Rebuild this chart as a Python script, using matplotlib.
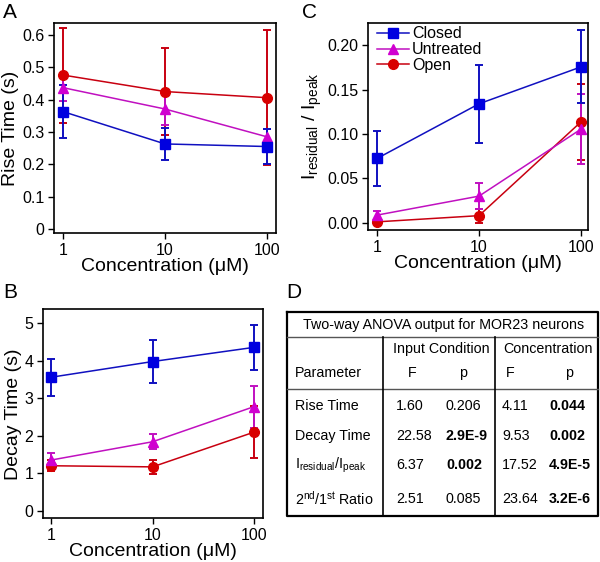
import matplotlib
matplotlib.use('Agg')
import matplotlib.pyplot as plt
from matplotlib.ticker import FixedLocator, FixedFormatter, NullLocator

plt.rcParams['font.family'] = ['Liberation Sans', 'DejaVu Sans']
plt.rcParams['mathtext.fontset'] = 'custom'
plt.rcParams['mathtext.rm'] = 'Liberation Sans'

# concentrations (uM)
conc = [1, 10, 100]
conc_labels = ['1', '10', '100']

# panel A: rise time (s)
rise_closed = [0.363, 0.263, 0.255]
rise_closed_err = [0.081, 0.050, 0.054]
rise_untreated = [0.437, 0.371, 0.285]
rise_untreated_err = [0.040, 0.050, 0.024]
rise_open = [0.476, 0.425, 0.406]
rise_open_err = [0.147, 0.134, 0.208]

# panel B: decay time (s)
decay_closed = [3.56, 3.98, 4.36]
decay_closed_err = [0.50, 0.58, 0.60]
decay_untreated = [1.35, 1.84, 2.78]
decay_untreated_err = [0.18, 0.20, 0.56]
decay_open = [1.20, 1.17, 2.10]
decay_open_err = [0.15, 0.18, 0.69]

# panel C: Iresidual / Ipeak
ires_closed = [0.0724, 0.134, 0.1756]
ires_closed_err = [0.031, 0.044, 0.041]
ires_untreated = [0.0086, 0.030, 0.1055]
ires_untreated_err = [0.005, 0.015, 0.039]
ires_open = [0.001, 0.008, 0.1137]
ires_open_err = [0.002, 0.008, 0.043]

# panel D: two-way ANOVA table
anova_title = 'Two-way ANOVA output for MOR23 neurons'
anova_params = ['Rise Time', 'Decay Time',
                r'I$_{\mathregular{residual}}$/I$_{\mathregular{peak}}$',
                r'2$^{\mathregular{nd}}$/1$^{\mathregular{st}}$ Ratio']
input_F = ['1.60', '22.58', '6.37', '2.51']
input_p = ['0.206', '2.9E-9', '0.002', '0.085']
conc_F = ['4.11', '9.53', '17.52', '23.64']
conc_p = ['0.044', '0.002', '4.9E-5', '3.2E-6']
input_p_bold = [False, True, True, False]
conc_p_bold = [True, True, True, True]

series_style = {
    'Closed': dict(color='#1010c0', mfc='#0000e0', marker='s', ms=7),
    'Untreated': dict(color='#c010c0', mfc='#d000d0', marker='^', ms=7),
    'Open': dict(color='#c80010', mfc='#d80000', marker='o', ms=7),
}

fig = plt.figure(figsize=(6.0, 5.62), dpi=100)


def panel(rect, closed, cerr, untr, uerr, opn, oerr, ylim, yticks, ylabels, ylabel, xlim):
    ax = fig.add_axes(rect)
    handles = {}
    for name, y, e in [('Open', opn, oerr), ('Untreated', untr, uerr), ('Closed', closed, cerr)]:
        st = series_style[name]
        h = ax.errorbar(conc, y, yerr=e, color=st['color'], marker=st['marker'],
                        mfc=st['mfc'], mec=st['mfc'], ms=st['ms'], lw=1.1,
                        elinewidth=1.4, capsize=3, capthick=1.4, label=name)
        handles[name] = h[0]
    ax.set_xscale('log')
    ax.set_xlim(*xlim)
    ax.set_ylim(*ylim)
    ax.xaxis.set_major_locator(FixedLocator(conc))
    ax.xaxis.set_major_formatter(FixedFormatter(conc_labels))
    ax.xaxis.set_minor_locator(NullLocator())
    ax.set_yticks(yticks)
    ax.set_yticklabels(ylabels)
    ax.tick_params(labelsize=11.5, length=4, width=1, direction='out', pad=3)
    for s in ax.spines.values():
        s.set_linewidth(1.2)
    ax.set_xlabel('Concentration (\u03bcM)', fontsize=14, labelpad=0)
    ax.set_ylabel(ylabel, fontsize=14, labelpad=2)
    return ax, handles


axA, _ = panel([0.090, 0.5854, 0.370, 0.3737], rise_closed, rise_closed_err,
               rise_untreated, rise_untreated_err, rise_open, rise_open_err,
               (-0.0124, 0.637), [0, 0.1, 0.2, 0.3, 0.4, 0.5, 0.6],
               ['0', '0.1', '0.2', '0.3', '0.4', '0.5', '0.6'], 'Rise Time (s)', (0.816, 122.5))

axB, _ = panel([0.0717, 0.0777, 0.3667, 0.372], decay_closed, decay_closed_err,
               decay_untreated, decay_untreated_err, decay_open, decay_open_err,
               (-0.203, 5.375), [0, 1, 2, 3, 4, 5],
               ['0', '1', '2', '3', '4', '5'], 'Decay Time (s)', (0.84, 121.7))

axC, hC = panel([0.6133, 0.5907, 0.3667, 0.368], ires_closed, ires_closed_err,
                ires_untreated, ires_untreated_err, ires_open, ires_open_err,
                (-0.0082, 0.2248), [0, 0.05, 0.10, 0.15, 0.20],
                ['0.00', '0.05', '0.10', '0.15', '0.20'],
                r'I$_{\mathregular{residual}}$ / I$_{\mathregular{peak}}$', (0.816, 117))
axC.legend([hC['Closed'], hC['Untreated'], hC['Open']], ['Closed', 'Untreated', 'Open'],
           loc='upper left', frameon=False, fontsize=11.5, handlelength=2.0,
           handletextpad=0.2, labelspacing=0.05, borderpad=0.0, borderaxespad=0.0,
           bbox_to_anchor=(0.04, 0.985))

# panel letters and table in pixel coordinates
axD = fig.add_axes([0, 0, 1, 1])
axD.set_xlim(0, 600)
axD.set_ylim(562, 0)
axD.axis('off')
for letter, x, y in [('A', 3, 3), ('C', 302, 3), ('B', 3, 283), ('D', 286, 283)]:
    axD.text(x, y, letter, fontsize=15, ha='left', va='top')

left, right, top, bottom = 287, 598, 312, 516
axD.plot([left, right, right, left, left], [top, top, bottom, bottom, top], color='black', lw=1.6)
axD.plot([left, right], [337, 337], color='#555555', lw=1.0)
axD.plot([left, right], [389, 389], color='#555555', lw=1.0)
axD.plot([383, 383], [337, bottom], color='black', lw=1.2)
axD.plot([495, 495], [337, bottom], color='black', lw=1.2)

fs = 10.3
axD.text(444, 324.5, anova_title, fontsize=fs, ha='center', va='center')
axD.text(441, 349, 'Input Condition', fontsize=fs, ha='center', va='center')
axD.text(548, 349, 'Concentration', fontsize=fs, ha='center', va='center')
axD.text(295, 373, 'Parameter', fontsize=fs, ha='left', va='center')
axD.text(412, 373, 'F', fontsize=fs, ha='center', va='center')
axD.text(463, 373, 'p', fontsize=fs, ha='center', va='center')
axD.text(510, 373, 'F', fontsize=fs, ha='center', va='center')
axD.text(569, 373, 'p', fontsize=fs, ha='center', va='center')

row_y = [406, 436, 465, 499]
for i, y in enumerate(row_y):
    axD.text(295, y, anova_params[i], fontsize=fs, ha='left', va='center')
    axD.text(396, y, input_F[i], fontsize=fs, ha='left', va='center')
    axD.text(446, y, input_p[i], fontsize=fs, ha='left', va='center',
             fontweight='bold' if input_p_bold[i] else 'normal')
    axD.text(502, y, conc_F[i], fontsize=fs, ha='left', va='center')
    axD.text(549, y, conc_p[i], fontsize=fs, ha='left', va='center',
             fontweight='bold' if conc_p_bold[i] else 'normal')

fig.savefig('out.png', dpi=100)
